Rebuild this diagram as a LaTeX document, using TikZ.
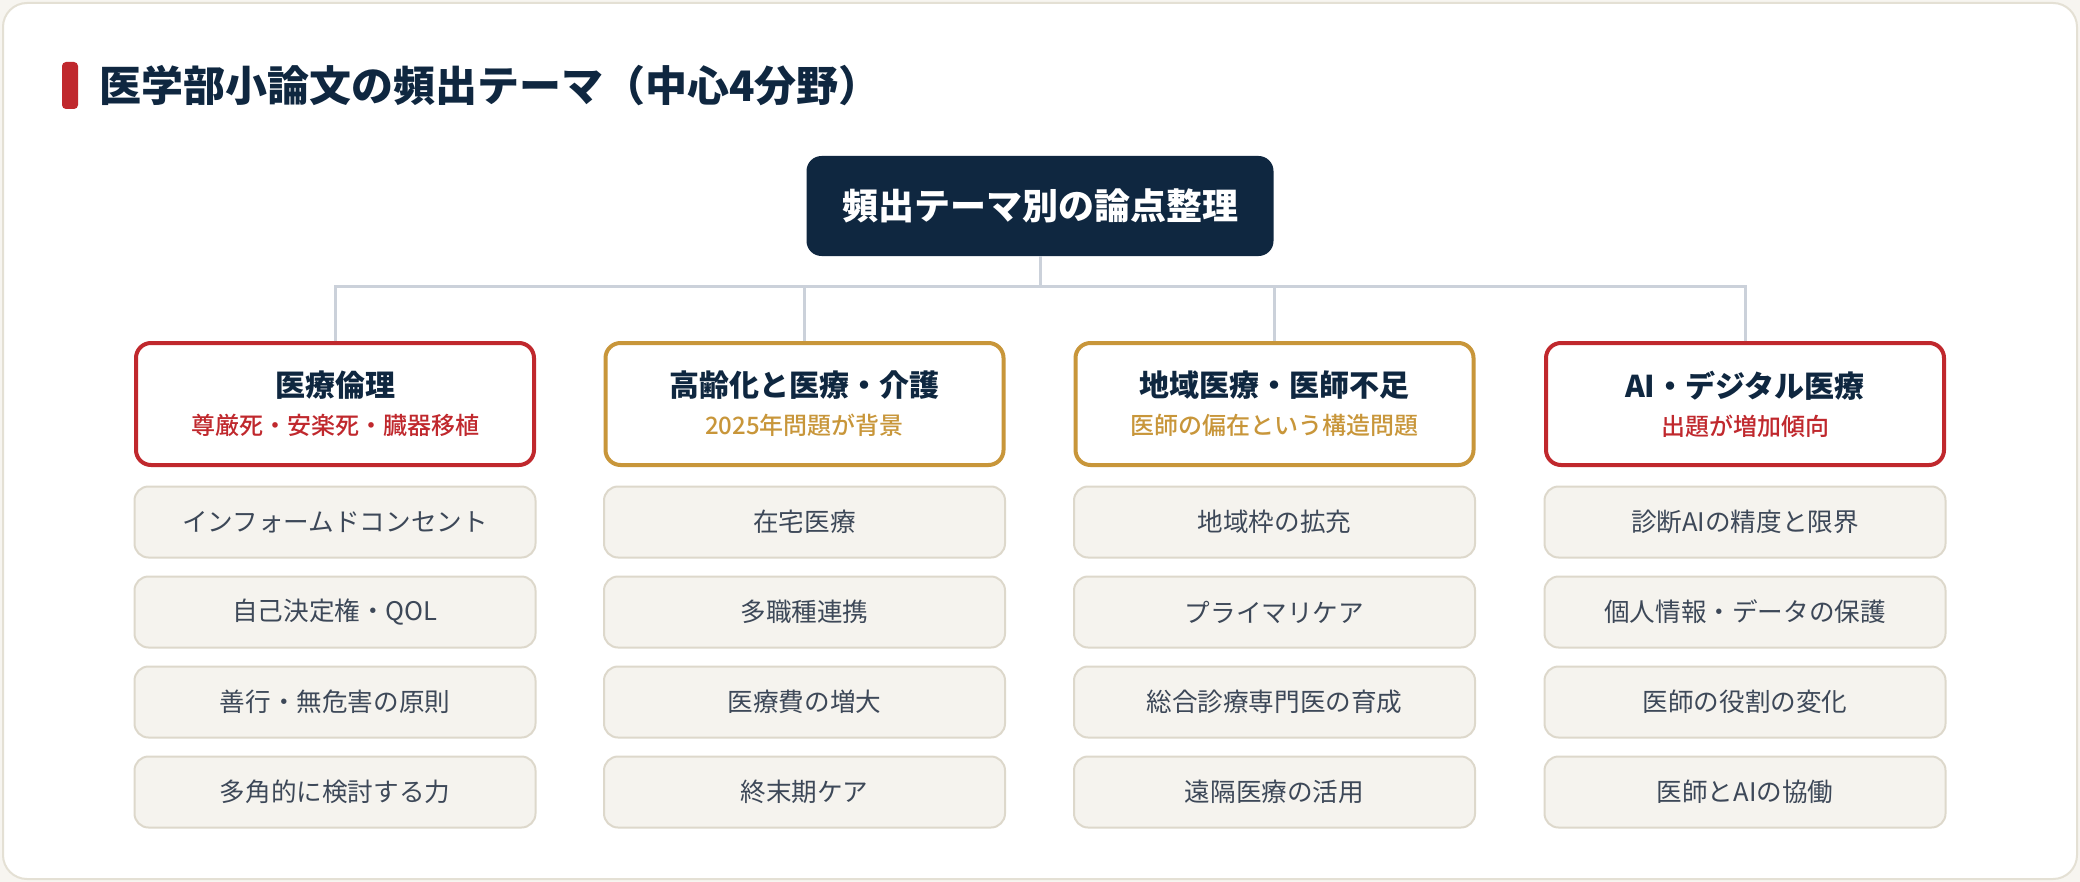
\documentclass[tikz,border=0pt]{standalone}
\usepackage{fontspec}
\setmainfont{Noto Sans CJK JP}
\newfontfamily\moyen{Noto Sans CJK JP Medium}
\definecolor{nuit}{HTML}{0F2740}
\definecolor{rouge}{HTML}{C0282D}
\definecolor{ocre}{HTML}{C8963A}
\definecolor{trait}{HTML}{CBD1DA}
\definecolor{sable}{HTML}{F5F3EE}
\definecolor{bordsable}{HTML}{DDD8CB}
\definecolor{encre}{HTML}{3D4858}
\definecolor{cadre}{HTML}{E4E0D4}
\definecolor{fond}{HTML}{F7F5F0}
\newcommand{\intitule}[3]{{\bfseries #1}\\{\color{#3}\moyen\fontsize{12pt}{19pt}\selectfont #2}}
\tikzset{
  racine/.style={fill=nuit, text=white, rounded corners=7.5pt, minimum width=233.5pt, minimum height=50pt, font=\bfseries\fontsize{18pt}{22pt}\selectfont},
  rubrique/.style={draw=#1, line width=2pt, fill=white, rounded corners=7.5pt, minimum width=199pt, minimum height=61pt, align=center, text=nuit, font=\fontsize{15pt}{19pt}\selectfont},
  sujet/.style={draw=bordsable, line width=1pt, fill=sable, rounded corners=7pt, minimum width=200.5pt, minimum height=35.5pt, text=encre, font=\fontsize{12.8pt}{16pt}\selectfont},
  lien/.style={draw=trait, line width=1.5pt}
}

\begin{document}
\begin{tikzpicture}[x=0.5pt,y=-0.5pt]
                \useasboundingbox (0,0) rectangle (2080,882);
                \fill[fond] (0,0) rectangle (2080,882);
                \draw[cadre, fill=white, line width=1pt, rounded corners=12pt] (3,3) rectangle (2077,879);

                \fill[rouge, rounded corners=2pt] (62,62) rectangle (78,109);
                \node[anchor=west, inner sep=0pt, text=nuit, font=\bfseries\fontsize{21pt}{25pt}\selectfont] (titre) at (99,86) {医学部小論文の頻出テーマ（中心4分野）};

                \node[racine] (t) at (1040,206) {頻出テーマ別の論点整理};
                \coordinate (j) at (1040,286);

                \node[rubrique=rouge] (a) at (335,404) {\intitule{医療倫理}{尊厳死・安楽死・臓器移植}{rouge}};
                \node[rubrique=ocre] (b) at (804.5,404) {\intitule{高齢化と医療・介護}{2025年問題が背景}{ocre}};
                \node[rubrique=ocre] (c) at (1274.5,404) {\intitule{地域医療・医師不足}{医師の偏在という構造問題}{ocre}};
                \node[rubrique=rouge] (d) at (1745,404) {\intitule{AI・デジタル医療}{出題が増加傾向}{rouge}};

                \draw[lien] (t) -- (j);
                \draw[lien] (a.north) |- (j);
                \draw[lien] (b.north) |- (j);
                \draw[lien] (c.north) |- (j);
                \draw[lien] (d.north) |- (j);

                \node[sujet] (a1) at (335,522) {インフォームドコンセント};
                \node[sujet] (a2) at (335,612) {自己決定権・QOL};
                \node[sujet] (a3) at (335,702) {善行・無危害の原則};
                \node[sujet] (a4) at (335,792) {多角的に検討する力};

                \node[sujet] (b1) at (804.5,522) {在宅医療};
                \node[sujet] (b2) at (804.5,612) {多職種連携};
                \node[sujet] (b3) at (804.5,702) {医療費の増大};
                \node[sujet] (b4) at (804.5,792) {終末期ケア};

                \node[sujet] (c1) at (1274.5,522) {地域枠の拡充};
                \node[sujet] (c2) at (1274.5,612) {プライマリケア};
                \node[sujet] (c3) at (1274.5,702) {総合診療専門医の育成};
                \node[sujet] (c4) at (1274.5,792) {遠隔医療の活用};

                \node[sujet] (d1) at (1745,522) {診断AIの精度と限界};
                \node[sujet] (d2) at (1745,612) {個人情報・データの保護};
                \node[sujet] (d3) at (1745,702) {医師の役割の変化};
                \node[sujet] (d4) at (1745,792) {医師とAIの協働};
            \end{tikzpicture}
\end{document}
